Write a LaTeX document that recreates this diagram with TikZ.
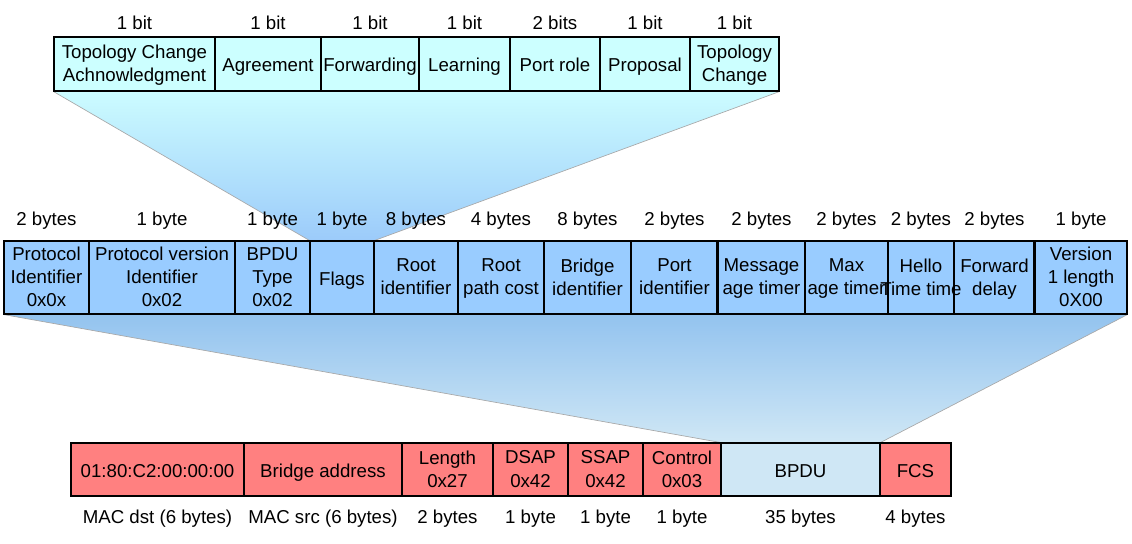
\documentclass[tikz,border=0pt]{standalone}
\usepackage{fontspec}
\setmainfont{Liberation Sans}
\usetikzlibrary{fit,backgrounds}
\definecolor{topfill}{HTML}{CCFFFF}
\definecolor{midfill}{HTML}{99CCFF}
\definecolor{redfill}{HTML}{FF8080}
\definecolor{bpdufill}{HTML}{CFE7F5}
\definecolor{funtop}{HTML}{CCFCFF}
\definecolor{funbot}{HTML}{9CCBFA}
\definecolor{lowtop}{HTML}{93C3EF}
\definecolor{lowbot}{HTML}{CFE7F5}
\definecolor{edgegray}{HTML}{A8A8A8}
\newcommand\fld[6]{\node[cellbox,fill=#6,fit={(#2,#4)(#3,#5)}] (#1) {};}
\begin{document}
\begin{tikzpicture}[x=0.75pt,y=-0.75pt,
  font=\fontsize{14}{17.3}\selectfont,
  cellbox/.style={draw=black,line width=0.8pt,inner sep=0pt},
  txt/.style={align=center,inner sep=0pt,yshift=-2.2pt,
    execute at begin node=\strut,execute at end node=\strut},
  sizelbl/.style={inner sep=0pt,anchor=base},
  edge/.style={draw=edgegray,line width=0.5pt},
  thickline/.style={draw=black,line width=1.6pt}]
\useasboundingbox (0,0) rectangle (1132,543);
\coordinate (ytop) at (0,29);
\coordinate (ymid) at (0,225);
\coordinate (ybot) at (0,523);

% top row
\fld{tca}{54}{215}{37}{91}{topfill}
\fld{agr}{215}{321}{37}{91}{topfill}
\fld{fwd}{321}{419}{37}{91}{topfill}
\fld{lrn}{419}{510}{37}{91}{topfill}
\fld{prt}{510}{600}{37}{91}{topfill}
\fld{prp}{600}{690}{37}{91}{topfill}
\fld{tc}{690}{779}{37}{91}{topfill}
\node[txt] at (tca) {Topology Change\\Achnowledgment};
\node[txt] at (agr) {Agreement};
\node[txt] at (fwd) {Forwarding};
\node[txt] at (lrn) {Learning};
\node[txt] at (prt) {Port role};
\node[txt] at (prp) {Proposal};
\node[txt] at (tc) {Topology\\Change};
\foreach \n/\t in {tca/1 bit,agr/1 bit,fwd/1 bit,lrn/1 bit,prt/2 bits,prp/1 bit,tc/1 bit}
  \node[sizelbl] at (\n.north |- ytop) {\t};

% middle row
\fld{pid}{4}{89}{241}{314}{midfill}
\fld{pvi}{89}{235}{241}{314}{midfill}
\fld{bt}{235}{310}{241}{314}{midfill}
\fld{flg}{310}{374}{241}{314}{midfill}
\fld{rid}{374}{458}{241}{314}{midfill}
\fld{rpc}{458}{544}{241}{314}{midfill}
\fld{bid}{544}{631}{241}{314}{midfill}
\fld{poi}{631}{718}{241}{314}{midfill}
\fld{mat}{718}{805}{241}{314}{midfill}
\fld{max}{805}{888}{241}{314}{midfill}
\fld{hel}{888}{954}{241}{314}{midfill}
\fld{fdl}{954}{1035}{241}{314}{midfill}
\fld{ver}{1035}{1127}{241}{314}{midfill}
\draw[thickline] (mat.north west) -- (mat.south west);
\draw[thickline] (ver.north west) -- (ver.south west);
\node[txt] at (pid) {Protocol\\Identifier\\0x0x};
\node[txt] at (pvi) {Protocol version\\Identifier\\0x02};
\node[txt] at (bt) {BPDU\\Type\\0x02};
\node[txt] at (flg) {Flags};
\node[txt] at (rid) {Root\\identifier};
\node[txt] at (rpc) {Root\\path cost};
\node[txt] at (bid) {Bridge\\identifier};
\node[txt] at (poi) {Port\\identifier};
\node[txt] at (mat) {Message\\age timer};
\node[txt] at (max) {Max\\age timer};
\node[txt] at (hel) {Hello\\Time time};
\node[txt] at (fdl) {Forward\\delay};
\node[txt] at (ver) {Version\\1 length\\0X00};
\foreach \n/\t in {pid/2 bytes,pvi/1 byte,bt/1 byte,flg/1 byte,rid/8 bytes,rpc/4 bytes,bid/8 bytes,poi/2 bytes,mat/2 bytes,max/2 bytes,hel/2 bytes,fdl/2 bytes,ver/1 byte}
  \node[sizelbl] at (\n.north |- ymid) {\t};

% bottom row
\fld{dst}{71}{244}{443}{496}{redfill}
\fld{src}{244}{402}{443}{496}{redfill}
\fld{len}{402}{493}{443}{496}{redfill}
\fld{dsap}{493}{568}{443}{496}{redfill}
\fld{ssap}{568}{643}{443}{496}{redfill}
\fld{ctl}{643}{721}{443}{496}{redfill}
\fld{bpdu}{721}{880}{443}{496}{bpdufill}
\fld{fcs}{880}{951}{443}{496}{redfill}
\node[txt] at (dst) {01:80:C2:00:00:00};
\node[txt] at (src) {Bridge address};
\node[txt] at (len) {Length\\0x27};
\node[txt] at (dsap) {DSAP\\0x42};
\node[txt] at (ssap) {SSAP\\0x42};
\node[txt] at (ctl) {Control\\0x03};
\node[txt] at (bpdu) {BPDU};
\node[txt] at (fcs) {FCS};
\foreach \n/\t in {dst/MAC dst (6 bytes),src/MAC src (6 bytes),len/2 bytes,dsap/1 byte,ssap/1 byte,ctl/1 byte,bpdu/35 bytes,fcs/4 bytes}
  \node[sizelbl] at (\n.south |- ybot) {\t};

% funnels
\begin{scope}[on background layer]
\shade[top color=funtop,bottom color=funbot]
  (tca.south west) -- (tc.south east) -- (flg.north east) -- (flg.north west) -- cycle;
\draw[edge] (tca.south west) -- (flg.north west);
\draw[edge] (tc.south east) -- (flg.north east);
\shade[top color=lowtop,bottom color=lowbot]
  (pid.south west) -- (ver.south east) -- (bpdu.north east) -- (bpdu.north west) -- cycle;
\draw[edge] (pid.south west) -- (bpdu.north west);
\draw[edge] (ver.south east) -- (bpdu.north east);
\end{scope}
\end{tikzpicture}
\end{document}
